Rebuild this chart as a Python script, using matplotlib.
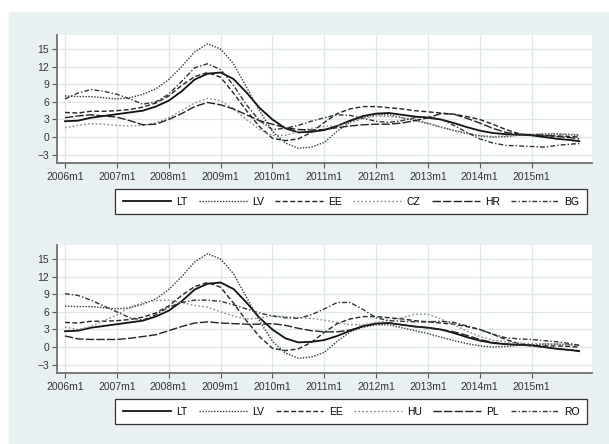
import matplotlib.pyplot as plt
from matplotlib.patches import Rectangle

plt.rcParams['font.family'] = ['Liberation Sans', 'DejaVu Sans']

# months since 2006m1 (quarterly, plus the last observation 2015m12)
months = list(range(0, 120, 3)) + [119]
year_ticks = [0, 12, 24, 36, 48, 60, 72, 84, 96, 108]
year_labels = ["2006m1", "2007m1", "2008m1", "2009m1", "2010m1",
               "2011m1", "2012m1", "2013m1", "2014m1", "2015m1"]
y_ticks = [-3, 0, 3, 6, 9, 12, 15]

lt = [2.7, 2.8, 3.3, 3.6, 3.9, 4.2, 4.5, 5.2, 6.2, 7.8, 9.8, 10.8,
      11.0, 9.9, 7.6, 5.0, 3.0, 1.5, 0.8, 0.9, 1.2, 1.9, 2.8, 3.6,
      4.0, 4.1, 3.8, 3.5, 3.3, 3.0, 2.4, 1.7, 1.1, 0.7, 0.5, 0.4,
      0.3, 0.0, -0.3, -0.5, -0.7]
lv = [7.0, 6.9, 6.9, 6.7, 6.5, 6.7, 7.3, 8.2, 9.8, 12.0, 14.5, 15.9,
      15.0, 12.5, 8.5, 4.5, 1.0, -1.0, -1.9, -1.7, -0.9, 1.0, 2.6, 3.4,
      3.8, 3.8, 3.3, 2.8, 2.3, 1.7, 1.1, 0.6, 0.2, 0.0, 0.1, 0.3,
      0.4, 0.5, 0.5, 0.4, 0.3]
ee = [4.2, 4.1, 4.4, 4.4, 4.5, 4.7, 5.1, 5.8, 7.0, 8.8, 10.3, 11.0,
      10.2, 7.5, 4.5, 1.8, -0.2, -0.6, -0.3, 0.8, 2.5, 4.0, 4.8, 5.2,
      5.2, 5.0, 4.8, 4.5, 4.3, 4.1, 3.9, 3.5, 3.0, 2.2, 1.3, 0.6,
      0.3, 0.2, 0.2, 0.1, 0.0]
cz = [1.6, 2.0, 2.3, 2.2, 2.0, 1.9, 2.0, 2.4, 3.3, 4.5, 5.8, 6.6,
      6.2, 4.8, 3.0, 1.3, 0.3, 0.3, 0.9, 1.5, 1.8, 2.0, 2.4, 3.2,
      3.6, 3.5, 3.3, 3.0, 2.4, 1.7, 1.2, 0.7, 0.3, 0.1, 0.2, 0.4,
      0.5, 0.6, 0.6, 0.5, 0.4]
hr = [3.3, 3.6, 3.8, 3.6, 3.4, 2.8, 2.1, 2.2, 3.0, 4.0, 5.2, 5.9,
      5.5, 4.8, 3.8, 2.8, 2.2, 1.6, 1.3, 1.2, 1.3, 1.6, 1.9, 2.1,
      2.2, 2.2, 2.4, 2.8, 3.3, 4.0, 3.9, 3.2, 2.4, 1.5, 0.8, 0.5,
      0.4, 0.3, 0.1, -0.1, -0.3]
bg = [6.5, 7.5, 8.1, 7.8, 7.3, 6.5, 5.6, 6.0, 7.3, 9.5, 11.8, 12.5,
      11.5, 8.8, 5.5, 2.8, 1.3, 1.5, 2.0, 2.7, 3.3, 3.8, 3.7, 3.2,
      2.7, 2.5, 2.8, 3.3, 3.5, 3.0, 2.0, 0.8, -0.3, -1.0, -1.4, -1.5,
      -1.6, -1.7, -1.4, -1.2, -1.1]
hu = [3.4, 3.0, 3.5, 4.5, 5.5, 6.8, 7.6, 7.9, 8.0, 7.6, 7.1, 6.8,
      6.0, 5.3, 4.8, 4.9, 5.3, 5.2, 5.0, 4.9, 4.6, 4.2, 3.8, 3.8,
      4.2, 4.5, 5.0, 5.6, 5.6, 4.8, 3.8, 2.7, 1.8, 1.2, 0.9, 0.7,
      0.6, 0.6, 0.5, 0.4, 0.3]
pl = [1.9, 1.4, 1.3, 1.3, 1.3, 1.5, 1.8, 2.1, 2.8, 3.5, 4.1, 4.3,
      4.1, 4.0, 3.9, 3.9, 4.0, 3.7, 3.2, 2.8, 2.6, 2.6, 2.9, 3.5,
      4.0, 4.1, 3.8, 3.5, 3.3, 3.0, 2.6, 2.0, 1.3, 0.8, 0.5, 0.4,
      0.2, 0.0, -0.3, -0.5, -0.6]
ro = [9.1, 8.8, 8.0, 7.0, 6.0, 5.0, 4.6, 5.5, 6.8, 7.6, 8.0, 8.0,
      7.8, 7.2, 6.5, 5.8, 5.3, 5.0, 4.9, 5.5, 6.5, 7.6, 7.6, 6.4,
      5.0, 4.5, 4.4, 4.3, 4.3, 4.4, 4.2, 3.6, 3.0, 2.2, 1.6, 1.4,
      1.3, 1.1, 0.9, 0.6, 0.3]

panel1 = [("LT", lt), ("LV", lv), ("EE", ee), ("CZ", cz), ("HR", hr), ("BG", bg)]
panel2 = [("LT", lt), ("LV", lv), ("EE", ee), ("HU", hu), ("PL", pl), ("RO", ro)]

# line look per position in the legend (Stata-like patterns)
styles = [
    dict(color="#111111", lw=1.3, linestyle="-"),
    dict(color="#333333", lw=1.0, linestyle=(0, (1, 1.1))),
    dict(color="#222222", lw=1.0, linestyle=(0, (3.5, 1.8))),
    dict(color="#8a8a8a", lw=1.0, linestyle=(0, (1.2, 1.6))),
    dict(color="#222222", lw=1.0, linestyle=(0, (6, 1.6))),
    dict(color="#333333", lw=1.0, linestyle=(0, (3.5, 1.5, 1, 1.5))),
]

W, H = 609, 444
BG_COL = "#e8f0f1"
GRID_COL = "#dce8ea"


def draw_panel(fig, top, series):
    ax = fig.add_axes([56.7 / W, 1 - (top + 127.7) / H, 535 / W, 127.7 / H])
    ax.set_facecolor("white")
    handles = []
    for (name, vals), st in zip(series, styles):
        h, = ax.plot(months, vals, label=name, **st)
        handles.append(h)
    ax.set_xlim(-1.92, 121.9)
    ax.set_ylim(-4.36, 17.39)
    ax.set_xticks(year_ticks)
    ax.set_xticklabels(year_labels)
    ax.set_yticks(y_ticks)
    ax.grid(True, color=GRID_COL, lw=0.9)
    ax.set_axisbelow(True)
    for s in ["top", "right"]:
        ax.spines[s].set_visible(False)
    for s in ["left", "bottom"]:
        ax.spines[s].set_color("#707070")
        ax.spines[s].set_linewidth(1.3)
    ax.tick_params(direction="out", length=3.5, width=0.8, color="#555555",
                   labelsize=7.5, labelcolor="#333333", pad=2)
    ax.tick_params(axis="x", pad=3)

    leg_top = top + 155
    ax.legend(handles, [n for n, _ in series], ncol=6, mode="expand",
              bbox_to_anchor=(115.3 / W, 1 - (leg_top + 23.3) / H, 472 / W, 23.3 / H),
              bbox_transform=fig.transFigure, loc="center", fancybox=False,
              edgecolor="#333333", framealpha=1, fontsize=7.5,
              handlelength=4.6, handletextpad=0.5, borderpad=0.75,
              borderaxespad=0, columnspacing=1.0)
    ax.get_legend().get_frame().set_linewidth(0.9)
    return ax


fig = plt.figure(figsize=(W / 100, H / 100), dpi=100)
fig.patch.set_facecolor("white")
fig.patches.append(Rectangle((9 / W, 0), 1 - 9 / W, 1 - 11.7 / H,
                             transform=fig.transFigure, color=BG_COL, zorder=-1))

draw_panel(fig, 35, panel1)
draw_panel(fig, 245, panel2)

fig.savefig("out.png", dpi=100, facecolor=fig.get_facecolor())
